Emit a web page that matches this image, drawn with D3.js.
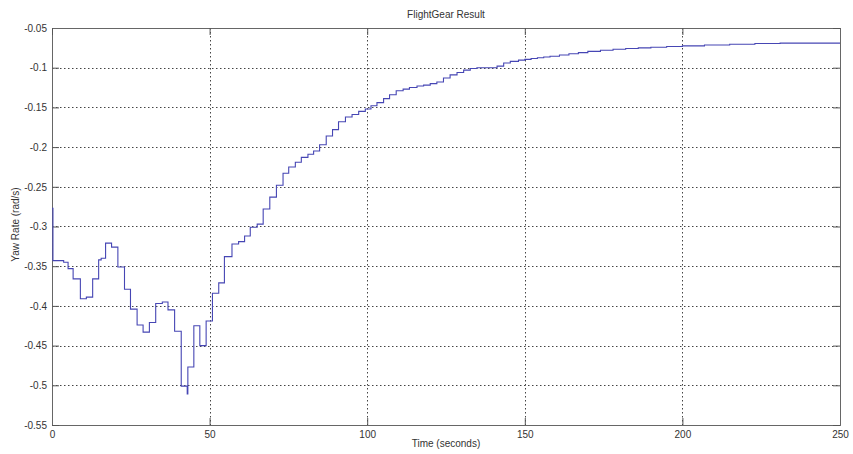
<!DOCTYPE html>
<head>
    <meta charset="utf-8">
    <script src="https://d3js.org/d3.v7.min.js"></script>
    <style>
        body { margin: 0; background: white; }
        text { font-family: "Liberation Sans", Arial, sans-serif; fill: #333; }
    </style>
</head>

<body>
    <div id="my_dataviz"></div>

    <script>
        // yaw rate samples (stairs), time in seconds
        var times = [0, 0.3, 3.7, 5.1, 6.7, 9.0, 10.9, 12.9, 14.8, 15.6, 17.0, 18.9, 20.9, 23.0, 24.9,
            27.0, 28.9, 30.9, 32.9, 35.0, 36.8, 38.9, 41.0, 42.9, 43.1, 45.0, 46.9, 48.9, 50.9,
            52.9, 54.7, 57.1, 59.2, 61.1, 62.9, 65.1, 67.0, 69.1, 71.2, 73.3, 75.1, 77.2, 79.1,
            81.2, 83.0, 84.9, 87.0, 89.0, 90.9, 93.1, 95.2, 97.3, 99.4, 101.2, 103.1, 105.2,
            107.1, 109.2, 111.4, 113.4, 115.8, 117.9, 120.0, 122.1, 124.2, 126.3, 128.5, 130.6,
            132.7, 134.8, 141.2, 143.3, 145.4, 148, 150, 152, 154, 156, 158, 161, 164, 167, 170,
            174, 178, 182, 186, 190, 195, 200, 207, 215, 223, 231, 250];
        var yawRate = [-0.277, -0.343, -0.345, -0.353, -0.366, -0.391, -0.389, -0.366, -0.342, -0.340,
            -0.321, -0.326, -0.351, -0.379, -0.404, -0.424, -0.433, -0.421, -0.397, -0.395, -0.405,
            -0.432, -0.501, -0.511, -0.477, -0.425, -0.450, -0.419, -0.384, -0.371, -0.338, -0.322,
            -0.319, -0.312, -0.301, -0.297, -0.278, -0.263, -0.248, -0.233, -0.225, -0.219, -0.213,
            -0.209, -0.205, -0.197, -0.186, -0.178, -0.168, -0.162, -0.159, -0.155, -0.152, -0.148,
            -0.144, -0.139, -0.134, -0.129, -0.127, -0.125, -0.123, -0.122, -0.120, -0.118, -0.113,
            -0.109, -0.106, -0.103, -0.101, -0.100, -0.098, -0.094, -0.092, -0.0905, -0.0895, -0.0885,
            -0.0875, -0.0865, -0.0855, -0.084, -0.0825, -0.081, -0.0795, -0.078, -0.0768, -0.0758,
            -0.075, -0.0742, -0.0733, -0.0725, -0.0715, -0.0705, -0.0695, -0.069, -0.069];

        var xTicks = [0, 50, 100, 150, 200, 250];
        var yTicks = [-0.55, -0.5, -0.45, -0.4, -0.35, -0.3, -0.25, -0.2, -0.15, -0.1, -0.05];
        var yTickLabels = ["-0.55", "-0.5", "-0.45", "-0.4", "-0.35", "-0.3", "-0.25", "-0.2", "-0.15", "-0.1", "-0.05"];

        var margin = { top: 28, right: 13, bottom: 29, left: 52 },
            width = 853 - margin.left - margin.right,
            height = 454 - margin.top - margin.bottom;

        var svg = d3.select("#my_dataviz")
            .append("svg")
            .attr("width", 853)
            .attr("height", 454)
            .append("g")
            .attr("transform", "translate(" + margin.left + "," + margin.top + ")");

        var x = d3.scaleLinear().domain([0, 250]).range([0, width]);
        var y = d3.scaleLinear().domain([-0.55, -0.05]).range([height, 0]);

        // dotted grid
        svg.append("g").selectAll("line")
            .data(xTicks.slice(1, -1))
            .enter().append("line")
            .attr("x1", d => Math.round(x(d)) + 0.5).attr("x2", d => Math.round(x(d)) + 0.5)
            .attr("y1", 0).attr("y2", height)
            .attr("stroke", "#444").attr("stroke-dasharray", "1.5,2.5");
        svg.append("g").selectAll("line")
            .data(yTicks.slice(1, -1))
            .enter().append("line")
            .attr("y1", d => Math.round(y(d)) + 0.5).attr("y2", d => Math.round(y(d)) + 0.5)
            .attr("x1", 0).attr("x2", width)
            .attr("stroke", "#444").attr("stroke-dasharray", "1.5,2.5");

        // axes with inward ticks
        var fmtY = function (d) { return yTickLabels[yTicks.indexOf(d)]; };
        var axes = [
            svg.append("g").attr("transform", "translate(0," + height + ")")
                .call(d3.axisBottom(x).tickValues(xTicks).tickSize(-7).tickPadding(6)),
            svg.append("g")
                .call(d3.axisLeft(y).tickValues(yTicks).tickFormat(fmtY).tickSize(-7).tickPadding(5)),
            svg.append("g")
                .call(d3.axisTop(x).tickValues(xTicks).tickSize(-7).tickFormat("")),
            svg.append("g").attr("transform", "translate(" + width + ",0)")
                .call(d3.axisRight(y).tickValues(yTicks).tickSize(-7).tickFormat(""))
        ];
        axes.forEach(function (a) {
            a.select(".domain").attr("stroke", "#666");
            a.selectAll(".tick line").attr("stroke", "#555");
            a.selectAll("text").style("font-size", "10px").attr("fill", "#333");
        });

        // step line
        var data = times.map(function (t, i) { return { t: t, v: yawRate[i] }; });
        var line = d3.line()
            .curve(d3.curveStepAfter)
            .x(function (d) { return x(d.t); })
            .y(function (d) { return y(d.v); });
        svg.append("path")
            .datum(data)
            .attr("fill", "none")
            .attr("stroke", "#4646b4")
            .attr("stroke-width", 1.1)
            .attr("d", line);

        // labels
        svg.append("text")
            .attr("text-anchor", "middle")
            .attr("x", width / 2).attr("y", -10)
            .style("font-size", "10px")
            .text("FlightGear Result");
        svg.append("text")
            .attr("text-anchor", "middle")
            .attr("x", width / 2).attr("y", height + 22)
            .style("font-size", "10px")
            .text("Time (seconds)");
        svg.append("text")
            .attr("text-anchor", "middle")
            .attr("transform", "translate(-33," + (height / 2 - 2) + ") rotate(-90)")
            .style("font-size", "10px")
            .text("Yaw Rate (rad/s)");
    </script>
</body>

</html>
